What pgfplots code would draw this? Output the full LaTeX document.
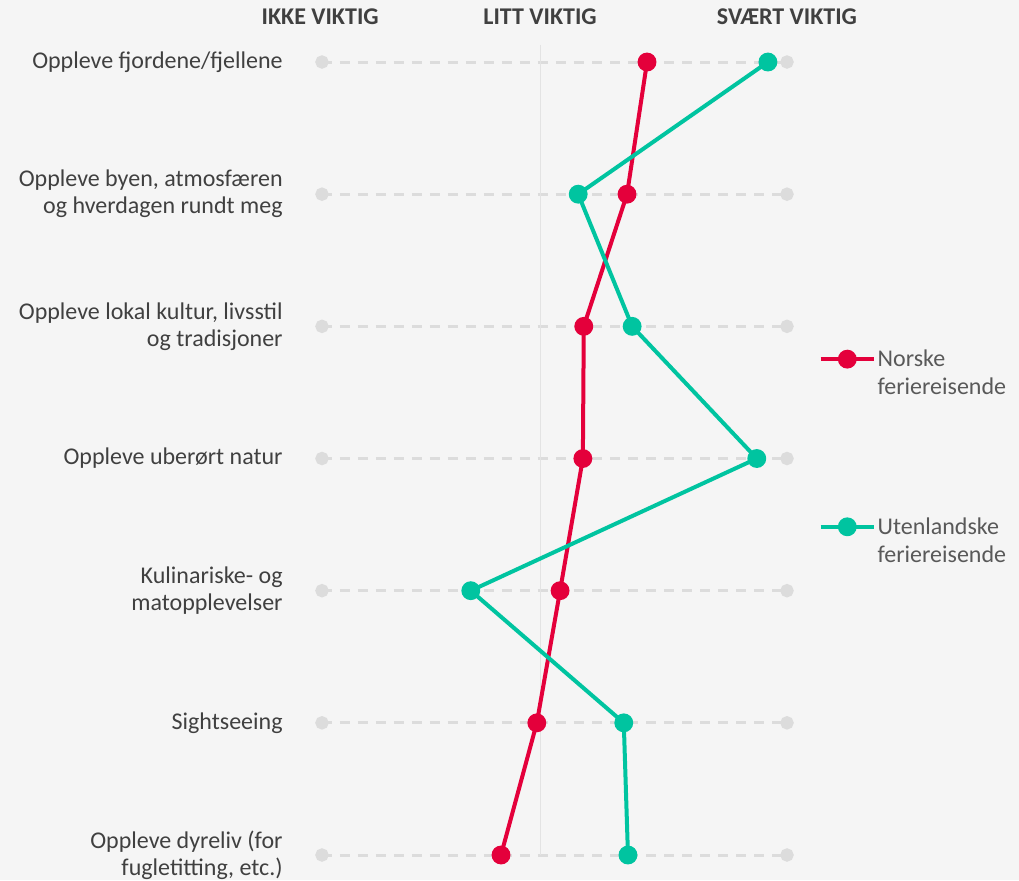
\documentclass[border=0pt]{standalone}
\usepackage{fontspec}
\setmainfont{Carlito}
\usepackage{pgfplots}
\pgfplotsset{compat=1.18}
\definecolor{bg}{HTML}{F5F5F5}
\definecolor{nor}{HTML}{E4003B}
\definecolor{ute}{HTML}{00C4A0}
\definecolor{rowline}{HTML}{DCDCDC}
\definecolor{midline}{HTML}{E3E3E3}
\definecolor{txt}{HTML}{404040}
\definecolor{leg}{HTML}{595959}

\begin{document}
\begin{tikzpicture}
\fill[bg] (0,0) rectangle (509.5pt,440pt);
\begin{axis}[
  at={(161pt,12.5pt)}, anchor=south west,
  scale only axis, width=232.5pt, height=396.5pt,
  xmin=0, xmax=100, ymin=0, ymax=6, y dir=reverse,
  axis lines=none, clip=false,
  legend style={at={(axis cs:106.7,2.145)}, anchor=north west,
    draw=none, fill=none, inner sep=0pt, row sep=56pt,
    font=\fontsize{12}{14}\selectfont, text=leg,
    nodes={align=left, inner xsep=0.8pt}, cells={anchor=base west}},
  legend cell align=left,
  legend image post style={yshift=7.3pt},
  legend image code/.code={\draw[mark repeat=2,mark phase=2,#1]
    plot coordinates {(0cm,0cm) (0.47cm,0cm) (0.94cm,0cm)};},
]
% row guide lines
\pgfplotsinvokeforeach{0,...,6}{
  \addplot[rowline, line width=1.5pt, dash pattern=on 5pt off 4pt,
    mark=*, mark size=2.6pt, mark options={solid, fill=rowline, draw=none},
    forget plot] coordinates {(0,#1) (100,#1)};
}
\addplot[midline, line width=0.5pt, forget plot] coordinates {(46.9,-0.13) (46.9,6)};

\addplot[nor, line width=2pt, mark=*, mark size=3.7pt,
  mark options={solid, fill=nor, draw=none}]
  coordinates {(69.9,0) (65.6,1) (56.3,2) (56.1,3) (51.2,4) (46.2,5) (38.5,6)};
\addlegendentry{Norske\\feriereisende}
\addplot[ute, line width=2pt, mark=*, mark size=3.7pt,
  mark options={solid, fill=ute, draw=none}]
  coordinates {(95.9,0) (55.1,1) (66.7,2) (93.5,3) (32.0,4) (64.9,5) (65.8,6)};
\addlegendentry{Utenlandske\\feriereisende}

% column headings
\begin{scope}[every node/.style={font=\bfseries\fontsize{12}{13}\selectfont, text=txt}]
\node at (axis cs:-0.4,0) [yshift=22.5pt] {IKKE VIKTIG};
\node at (axis cs:46.9,0) [yshift=22.5pt] {LITT VIKTIG};
\node at (axis cs:100,0) [yshift=22.5pt] {SVÆRT VIKTIG};
\end{scope}

% row labels
\begin{scope}[every node/.style={font=\fontsize{12}{13.5}\selectfont, text=txt,
    align=right, anchor=east, inner sep=0pt, xshift=-19.5pt}]
\node at (axis cs:0,0) {Oppleve fjordene/fjellene};
\node at (axis cs:0,1) {Oppleve byen, atmosfæren\\og hverdagen rundt meg};
\node at (axis cs:0,2) {Oppleve lokal kultur, livsstil\\og tradisjoner};
\node at (axis cs:0,3) {Oppleve uberørt natur};
\node at (axis cs:0,4) {Kulinariske- og\\matopplevelser};
\node at (axis cs:0,5) {Sightseeing};
\node at (axis cs:0,6) {Oppleve dyreliv (for\\fugletitting, etc.)};
\end{scope}
\end{axis}
\pgfresetboundingbox
\path[use as bounding box] (0,0) rectangle (509.5pt,440pt);
\end{tikzpicture}
\end{document}
